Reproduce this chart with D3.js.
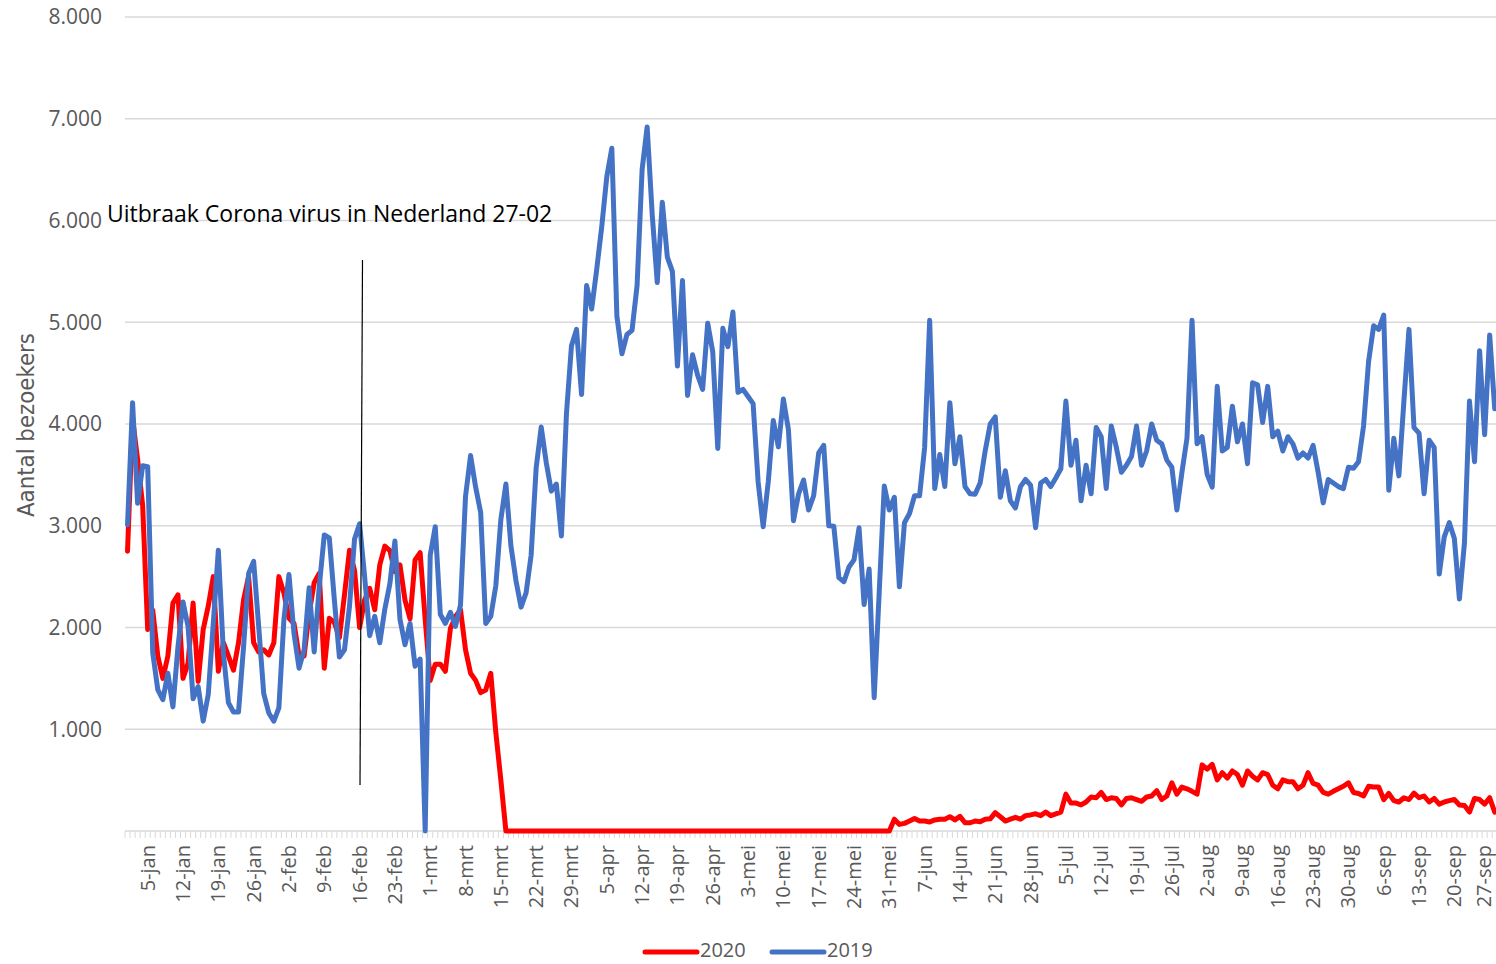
<!DOCTYPE html>
<html>
<head>
<meta charset="utf-8">
<script src="https://cdn.jsdelivr.net/npm/d3@7"></script>
<style>
  body { margin: 0; background: #ffffff; }
  svg { display: block; }
</style>
</head>
<body>
<svg id="chart" width="1496" height="964"></svg>
<script>
// Daily categories, 1 January through 28 September, Dutch month abbreviations
const monthNames = ["jan", "feb", "mrt", "apr", "mei", "jun", "jul", "aug", "sep"];
const days = d3.timeDay
  .range(new Date(2020, 0, 1), new Date(2020, 8, 29))
  .map(d => d.getDate() + "-" + monthNames[d.getMonth()]);

// Weekly labels shown on the category axis
const tickLabels = [
  "5-jan", "12-jan", "19-jan", "26-jan", "2-feb", "9-feb", "16-feb", "23-feb",
  "1-mrt", "8-mrt", "15-mrt", "22-mrt", "29-mrt", "5-apr", "12-apr", "19-apr",
  "26-apr", "3-mei", "10-mei", "17-mei", "24-mei", "31-mei", "7-jun", "14-jun",
  "21-jun", "28-jun", "5-jul", "12-jul", "19-jul", "26-jul", "2-aug", "9-aug",
  "16-aug", "23-aug", "30-aug", "6-sep", "13-sep", "20-sep", "27-sep"
];

const yTicks = [1000, 2000, 3000, 4000, 5000, 6000, 7000, 8000];

const seriesNames = ["2020", "2019"];

// Visitors per day, 2020
const visitors2020 = [
  2750, 4050, 3650, 3200, 1980, 2170, 1720, 1500, 1720, 2240,
  2320, 1500, 1650, 2240, 1470, 1980, 2210, 2500, 1570, 1850,
  1720, 1580, 1850, 2270, 2500, 1850, 1760, 1780, 1730, 1850,
  2500, 2340, 2090, 2040, 1720, 1720, 2140, 2440, 2530, 1600,
  2090, 2050, 1900, 2320, 2760, 2560, 2000, 2270, 2385, 2175,
  2615, 2800, 2755, 2550, 2615, 2270, 2085, 2665, 2735, 2080,
  1480, 1640, 1640, 1570, 1990, 2105, 2175, 1780, 1550, 1480,
  1360, 1385, 1550, 970, 500,
  0, 0, 0, 0, 0, 0, 0, 0, 0, 0,
  0, 0, 0, 0, 0, 0, 0, 0, 0, 0,
  0, 0, 0, 0, 0, 0, 0, 0, 0, 0,
  0, 0, 0, 0, 0, 0, 0, 0, 0, 0,
  0, 0, 0, 0, 0, 0, 0, 0, 0, 0,
  0, 0, 0, 0, 0, 0, 0, 0, 0, 0,
  0, 0, 0, 0, 0, 0, 0, 0, 0, 0,
  0, 0, 0, 0, 0, 0, 0,
  116, 65, 75, 98, 123, 98, 98, 88, 109, 116,
  116, 141, 109, 144, 81, 81, 98, 91, 116, 120,
  180, 140, 98, 116, 134, 116, 151, 158, 169, 151,
  186, 151, 169, 186, 362, 274, 274, 256, 285, 334,
  327, 379, 309, 327, 320, 256, 320, 327, 309, 292,
  334, 344, 397, 309, 344, 474, 362, 432, 415, 390,
  362, 650, 608, 655, 502, 573, 520, 590, 555, 450,
  590, 538, 502, 573, 555, 450, 415, 502, 485, 485,
  415, 450, 573, 467, 450, 379, 362, 390, 415, 439,
  474, 379, 369, 344, 439, 432, 432, 309, 369, 299,
  285, 327, 309, 372, 327, 344, 285, 320, 264, 285,
  299, 309, 256, 250, 186, 320, 309, 264, 327, 186
];

// Visitors per day, 2019 (no 29 February that year)
const visitors2019 = [
  3010, 4210, 3220, 3590, 3580, 1750, 1390, 1290, 1550, 1220,
  1810, 2250, 2010, 1300, 1420, 1080, 1340, 2040, 2760, 1750,
  1260, 1170, 1170, 1810, 2530, 2650, 2010, 1350, 1160, 1080,
  1210, 2080, 2520, 1940, 1600, 1780, 2390, 1760, 2400, 2910,
  2880, 2270, 1710, 1780, 2210, 2870, 3020, 2500, 1920, 2110,
  1850, 2180, 2430, 2850, 2080, 1830, 2040, 1620, 1690, 0,
  2710, 2990, 2130, 2040, 2150, 2010, 2220, 3290, 3690, 3380,
  3130, 2040, 2110, 2410, 3060, 3410, 2800, 2460, 2200, 2340,
  2710, 3570, 3970, 3620, 3340, 3410, 2900, 4100, 4770, 4930,
  4290, 5360, 5130, 5520, 5940, 6430, 6710, 5060, 4690, 4880,
  4920, 5360, 6500, 6920, 6060, 5390, 6180, 5640, 5500, 4570,
  5410, 4280, 4680, 4480, 4340, 4990, 4710, 3760, 4940, 4760,
  5100, 4310, 4340, 4270, 4200, 3430, 2990, 3430, 4035, 3775,
  4245, 3945, 3050, 3310, 3450, 3155, 3295, 3715, 3790, 3000,
  2995, 2490, 2450, 2595, 2665, 2980, 2225, 2575, 1310, 2350,
  3390, 3155, 3280, 2400, 3030, 3120, 3295, 3295, 3770, 5020,
  3365, 3700, 3385, 4210, 3610, 3875, 3385, 3315, 3310, 3420,
  3735, 4000, 4070, 3280, 3540, 3245, 3175, 3385, 3455, 3400,
  2980, 3420, 3455, 3385, 3470, 3560, 4225, 3595, 3840, 3245,
  3595, 3315, 3965, 3875, 3365, 3980, 3770, 3525, 3595, 3680,
  3980, 3595, 3735, 4000, 3840, 3805, 3645, 3575, 3155, 3525,
  3860, 5020, 3805, 3875, 3505, 3380, 4370, 3735, 3770, 4175,
  3825, 4000, 3610, 4405, 4385, 4015, 4370, 3875, 3930, 3735,
  3875, 3805, 3665, 3715, 3665, 3790, 3525, 3225, 3455, 3420,
  3385, 3365, 3575, 3565, 3630, 3980, 4615, 4965, 4930, 5070,
  3350, 3860, 3490, 4225, 4930, 3965, 3910, 3315, 3840, 3770,
  2525, 2890, 3030, 2875, 2280, 2830, 4225, 3630, 4720, 3895,
  4875, 4150
];

const colors = { "2020": "#ff0000", "2019": "#4472c4" };
const textGray = "#595959";
const gridGray = "#d9d9d9";
const baseFont = "'Open Sans', 'Noto Sans', sans-serif";

const plot = { left: 125, right: 1496, top: 17, bottom: 831 };
const step = 5.045;

const svg = d3.select("#chart");

const x = d3.scaleBand()
  .domain(days)
  .range([plot.left, plot.left + days.length * step])
  .padding(0);
const y = d3.scaleLinear().domain([0, 8000]).range([plot.bottom, plot.top]);
const cx = i => x(days[i]) + x.bandwidth() / 2;

const nl = d3.formatLocale({ decimal: ",", thousands: ".", grouping: [3], currency: ["€", ""] });
const fmt = nl.format(",.0f");

// Horizontal gridlines
svg.append("g")
  .selectAll("line")
  .data(yTicks)
  .join("line")
  .attr("x1", plot.left).attr("x2", plot.right)
  .attr("y1", d => y(d)).attr("y2", d => y(d))
  .attr("stroke", gridGray).attr("stroke-width", 1.5);

// Value labels
svg.append("g")
  .selectAll("text")
  .data(yTicks)
  .join("text")
  .attr("x", 102)
  .attr("y", d => y(d))
  .attr("dy", "0.35em")
  .attr("text-anchor", "end")
  .attr("font-family", baseFont)
  .attr("font-size", 21)
  .attr("fill", textGray)
  .text(d => fmt(d));

// Category axis: baseline and one small tick per day
svg.append("line")
  .attr("x1", plot.left).attr("x2", plot.right)
  .attr("y1", plot.bottom).attr("y2", plot.bottom)
  .attr("stroke", gridGray).attr("stroke-width", 1.5);

svg.append("g")
  .selectAll("line")
  .data(days.concat([null]))
  .join("line")
  .attr("x1", (d, i) => plot.left + i * x.bandwidth())
  .attr("x2", (d, i) => plot.left + i * x.bandwidth())
  .attr("y1", plot.bottom).attr("y2", plot.bottom + 7)
  .attr("stroke", gridGray).attr("stroke-width", 1);

const xAxis = svg.append("g")
  .attr("transform", `translate(0,${plot.bottom})`)
  .call(d3.axisBottom(x).tickValues(tickLabels).tickSize(0));
xAxis.select(".domain").remove();
xAxis.selectAll("text")
  .attr("transform", "rotate(-90)")
  .attr("text-anchor", "end")
  .attr("x", -14)
  .attr("y", 0)
  .attr("dy", (d, i) => (i === tickLabels.length - 1 ? "0.05em" : "0.35em"))
  .attr("font-family", baseFont)
  .attr("font-size", 20)
  .attr("fill", textGray);

// Axis title
svg.append("text")
  .attr("transform", "translate(34,425) rotate(-90)")
  .attr("text-anchor", "middle")
  .attr("font-family", "'Liberation Sans Narrow', 'DejaVu Sans Condensed', sans-serif")
  .attr("font-size", 23)
  .attr("fill", textGray)
  .attr("textLength", 184)
  .attr("lengthAdjust", "spacingAndGlyphs")
  .text("Aantal bezoekers");

// Series lines (2019 drawn last, on top)
const line = d3.line()
  .x((d, i) => cx(i))
  .y(d => y(d));

const series = [
  { name: seriesNames[0], values: visitors2020 },
  { name: seriesNames[1], values: visitors2019 }
];

svg.append("g")
  .selectAll("path")
  .data(series)
  .join("path")
  .attr("d", s => line(s.values))
  .attr("fill", "none")
  .attr("stroke", s => colors[s.name])
  .attr("stroke-width", 5)
  .attr("stroke-linejoin", "round")
  .attr("stroke-linecap", "round");

// Outbreak annotation
svg.append("line")
  .attr("x1", 362.5).attr("y1", 260)
  .attr("x2", 360).attr("y2", 785)
  .attr("stroke", "#000").attr("stroke-width", 1.2);

svg.append("text")
  .attr("x", 107).attr("y", 222)
  .attr("font-family", baseFont)
  .attr("font-size", 23)
  .attr("fill", "#000")
  .text("Uitbraak Corona virus in Nederland 27-02");

// Legend
const legend = svg.append("g");
const legendItems = [
  { name: seriesNames[0], x: 645 },
  { name: seriesNames[1], x: 772 }
];
legendItems.forEach(item => {
  legend.append("line")
    .attr("x1", item.x).attr("x2", item.x + 52)
    .attr("y1", 952).attr("y2", 952)
    .attr("stroke", colors[item.name])
    .attr("stroke-width", 5)
    .attr("stroke-linecap", "round");
  legend.append("text")
    .attr("x", item.x + 55).attr("y", 950)
    .attr("dy", "0.35em")
    .attr("font-family", baseFont)
    .attr("font-size", 20)
    .attr("fill", textGray)
    .text(item.name);
});
</script>
</body>
</html>
